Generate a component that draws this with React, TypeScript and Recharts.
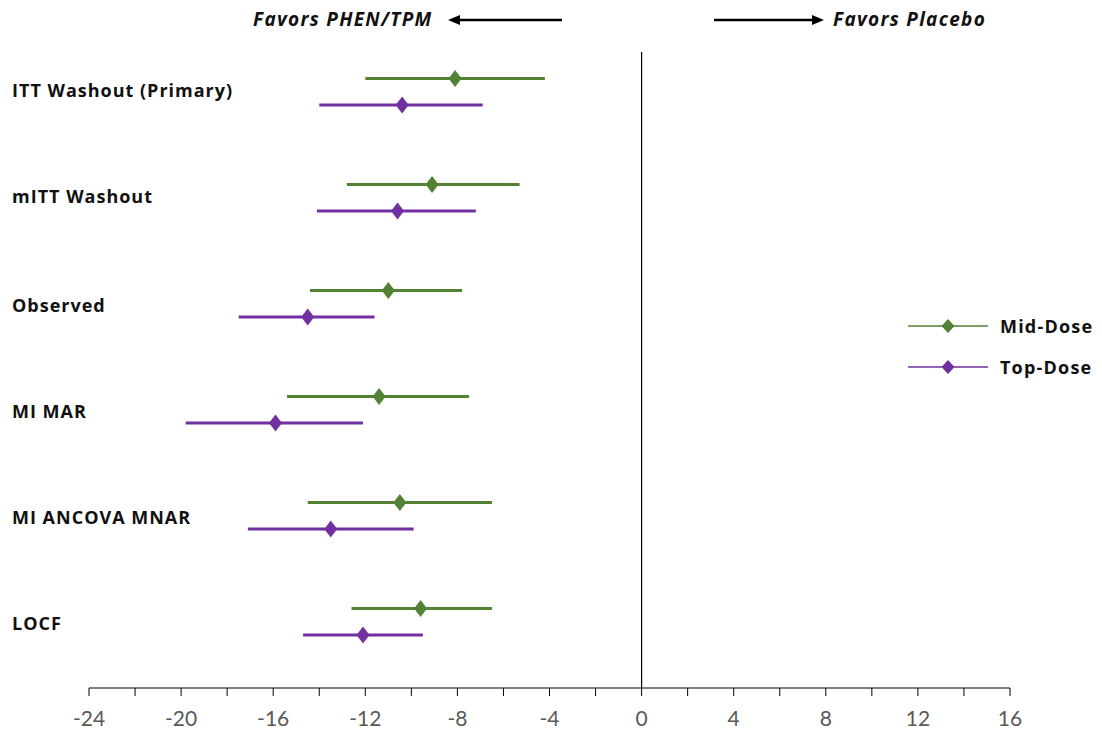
import React from 'react';
import { ComposedChart, Scatter, ErrorBar, XAxis, YAxis, ReferenceLine } from 'recharts';

const categories = ['ITT Washout (Primary)', 'mITT Washout', 'Observed', 'MI MAR', 'MI ANCOVA MNAR', 'LOCF'];
const midEst = [-8.1, -9.1, -11.0, -11.4, -10.5, -9.6];
const midLow = [-12.0, -12.8, -14.4, -15.4, -14.5, -12.6];
const midHigh = [-4.2, -5.3, -7.8, -7.5, -6.5, -6.5];
const topEst = [-10.4, -10.6, -14.5, -15.9, -13.5, -12.1];
const topLow = [-14.0, -14.1, -17.5, -19.8, -17.1, -14.7];
const topHigh = [-6.9, -7.2, -11.6, -12.1, -9.9, -9.5];
const xTicks = [-24, -22, -20, -18, -16, -14, -12, -10, -8, -6, -4, -2, 0, 2, 4, 6, 8, 10, 12, 14, 16];
const labelTicks = [0.37, 1.37, 2.4, 3.4, 4.4, 5.4];
const seriesNames = ['Mid-Dose', 'Top-Dose'];

const MID = '#548235';
const TOP = '#7030A0';

const midData = categories.map((c, i) => ({ name: c, x: midEst[i], y: i + 0.25, err: [midEst[i] - midLow[i], midHigh[i] - midEst[i]] }));
const topData = categories.map((c, i) => ({ name: c, x: topEst[i], y: i + 0.5, err: [topEst[i] - topLow[i], topHigh[i] - topEst[i]] }));

const diamond = (color: string) => (props: any) => {
  const { cx, cy } = props;
  if (cx == null || cy == null) return null;
  return <polygon points={`${cx},${cy - 8.5} ${cx + 6.5},${cy} ${cx},${cy + 8.5} ${cx - 6.5},${cy}`} fill={color} />;
};

const XTick = (props: any) => {
  const { x, y, payload } = props;
  if (payload.value % 4 !== 0) return null;
  return (
    <text x={x} y={y + 28} textAnchor="middle" fill="#595959" fontSize={21}
      fontFamily="Lato, sans-serif">{payload.value}</text>
  );
};

const YTick = (props: any) => {
  const { y, payload } = props;
  const idx = Math.floor(payload.value);
  return (
    <text x={4} y={y + 6} textAnchor="start" fill="#111" fontSize={18} fontWeight="bold" letterSpacing={1}
      fontFamily="'Open Sans', sans-serif">{categories[idx]}</text>
  );
};

const headerFont: React.CSSProperties = {
  position: 'absolute', fontFamily: "'Open Sans', sans-serif", letterSpacing: 1.3,
  fontWeight: 'bold', fontStyle: 'italic', fontSize: 19, color: '#111', whiteSpace: 'nowrap', lineHeight: '20px',
};

export default function App() {
  const colors = [MID, TOP];
  return (
    <div style={{ position: 'relative', width: 1086, height: 722 }}>
      <ComposedChart width={1086} height={722} margin={{ top: 44, right: 84, bottom: 8, left: 0 }}>
        <XAxis type="number" dataKey="x" domain={[-24, 16]} ticks={xTicks} interval={0}
          axisLine={{ stroke: '#000', strokeWidth: 1.2 }} tickLine={{ stroke: '#000' }} tickSize={8}
          tick={<XTick />} height={34} allowDataOverflow />
        <YAxis type="number" dataKey="y" domain={[0, 6]} reversed ticks={labelTicks} interval={0}
          axisLine={false} tickLine={false} width={81} tick={<YTick />} />
        <ReferenceLine x={0} stroke="#000" strokeWidth={1.2} />
        <Scatter name={seriesNames[0]} data={midData} fill={MID} shape={diamond(MID)} isAnimationActive={false}>
          <ErrorBar dataKey="err" direction="x" width={0} stroke={MID} strokeWidth={3} />
        </Scatter>
        <Scatter name={seriesNames[1]} data={topData} fill={TOP} shape={diamond(TOP)} isAnimationActive={false}>
          <ErrorBar dataKey="err" direction="x" width={0} stroke={TOP} strokeWidth={3} />
        </Scatter>
      </ComposedChart>
      <div style={{ position: 'absolute', left: 900, top: 297 }}>
        {seriesNames.map((label, i) => (
          <div key={label} style={{ display: 'flex', alignItems: 'center', height: 41 }}>
            <svg width={84} height={20}>
              <line x1={0} y1={10} x2={80} y2={10} stroke={colors[i]} strokeWidth={1.5} />
              <polygon points="40,3 46.5,10 40,17 33.5,10" fill={colors[i]} />
            </svg>
            <span style={{ marginLeft: 8, fontFamily: "'Open Sans', sans-serif", fontWeight: 'bold', fontSize: 18, letterSpacing: 1.2, color: '#111' }}>{label}</span>
          </div>
        ))}
      </div>
      <div style={{ ...headerFont, left: 245, top: 1 }}>Favors PHEN/TPM</div>
      <svg style={{ position: 'absolute', left: 430, top: 2 }} width={130} height={20}>
        <line x1={18} y1={10} x2={124} y2={10} stroke="#000" strokeWidth={2.5} />
        <polygon points="10,10 22,5 22,15" fill="#000" />
      </svg>
      <svg style={{ position: 'absolute', left: 700, top: 2 }} width={130} height={20}>
        <line x1={6} y1={10} x2={106} y2={10} stroke="#000" strokeWidth={2.5} />
        <polygon points="116,10 104,5 104,15" fill="#000" />
      </svg>
      <div style={{ ...headerFont, left: 825, top: 1 }}>Favors Placebo</div>
    </div>
  );
}
